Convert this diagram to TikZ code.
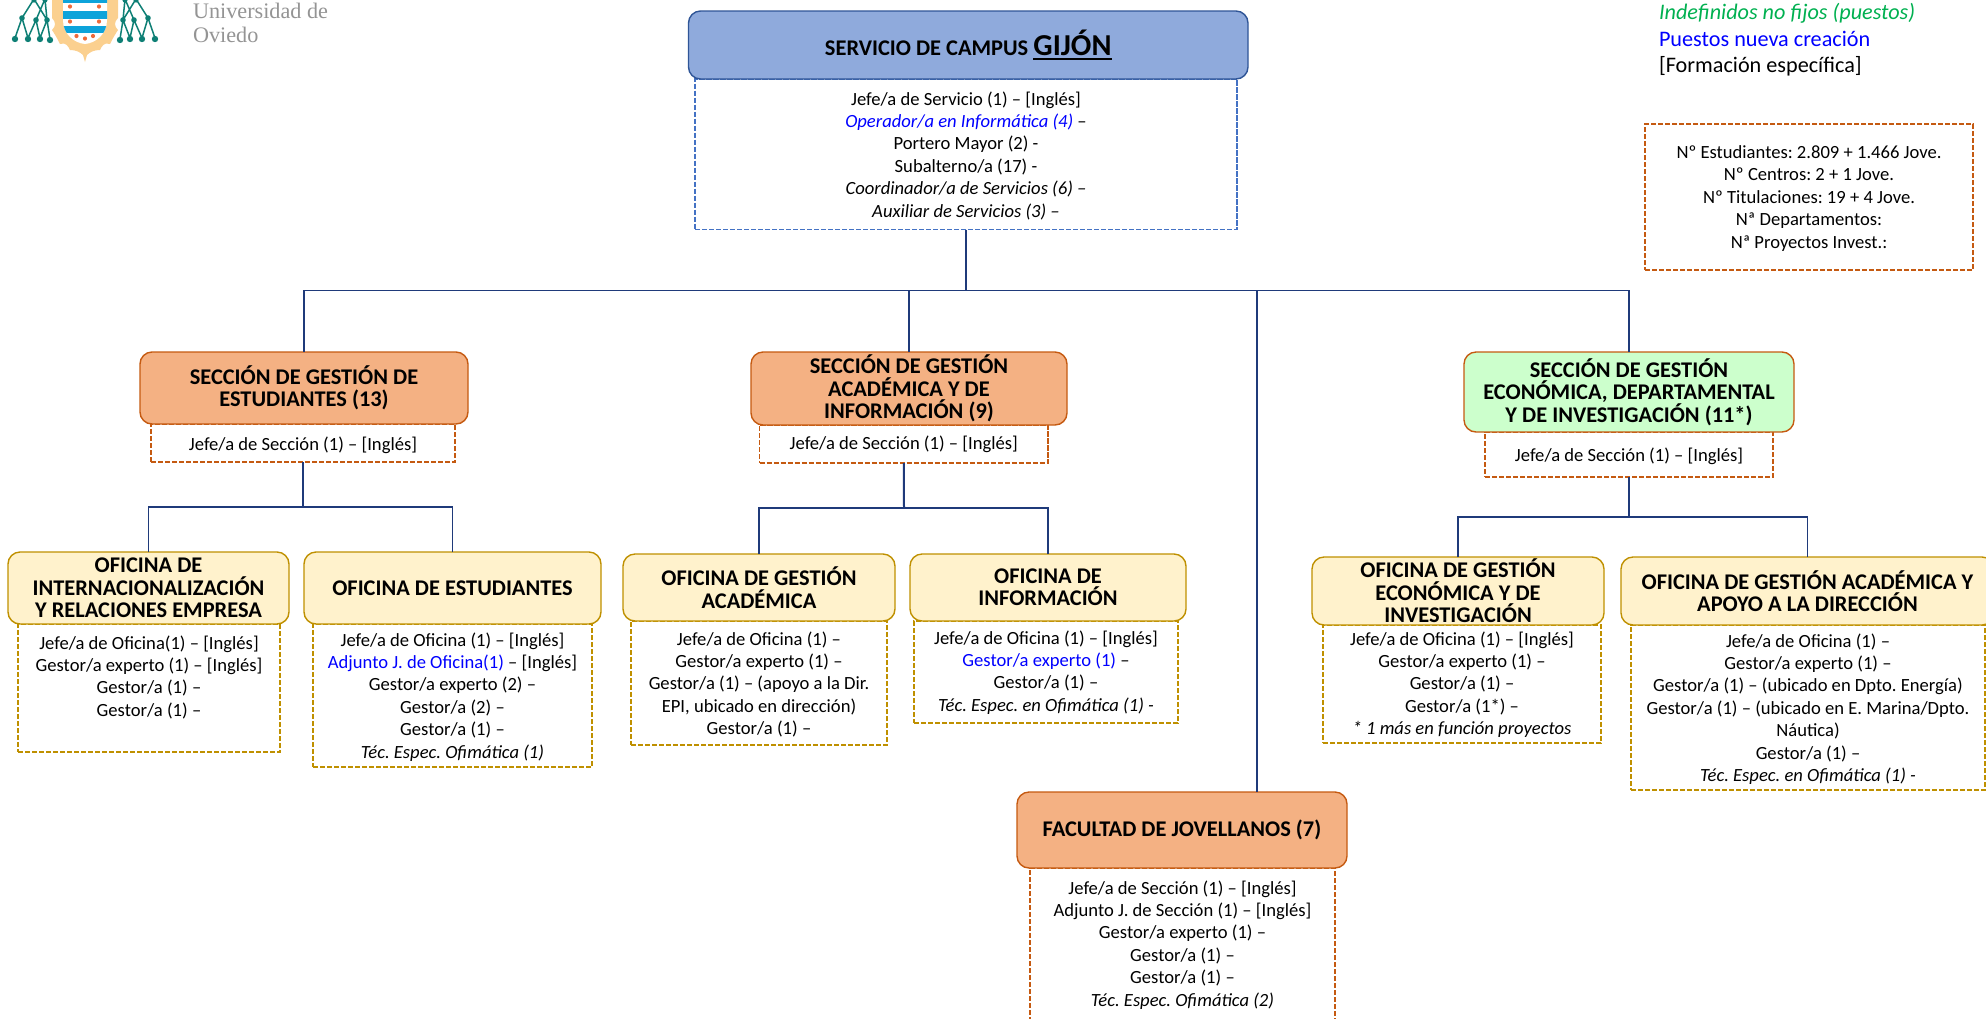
\documentclass[tikz,border=0pt]{standalone}
\usepackage{fontspec}
\setmainfont{Carlito}
\newfontfamily\logofont{Liberation Serif}
\definecolor{cnavy}{HTML}{1F3A7A}
\definecolor{cblue}{HTML}{8FAADC}
\definecolor{cblued}{HTML}{2F5597}
\definecolor{cdash}{HTML}{4472C4}
\definecolor{corange}{HTML}{F4B183}
\definecolor{corangd}{HTML}{C55A11}
\definecolor{cyel}{HTML}{FFF2CC}
\definecolor{cgold}{HTML}{BF9000}
\definecolor{cgreen}{HTML}{CCFFCC}
\definecolor{cteal}{HTML}{0E7F75}
\definecolor{ctan}{HTML}{FBD08F}
\definecolor{cstripe}{HTML}{0DA3DA}
\definecolor{cdot}{HTML}{EE6A3A}
\definecolor{cnew}{HTML}{0000FF}
\definecolor{cind}{HTML}{00B050}
\newcommand{\nw}[1]{\textcolor{cnew}{#1}}
\tikzset{
  x=0.5pt,y=-0.5pt,
  bxbase/.style={inner sep=0pt,outer sep=0pt,align=center,text=black,font=\fontsize{11.2}{11.2}\selectfont\bfseries\frenchspacing},
  hdblue/.style={bxbase,draw=cblued,fill=cblue,line width=0.7pt,rounded corners=6pt},
  hdorange/.style={bxbase,draw=corangd,fill=corange,line width=0.7pt,rounded corners=6pt},
  hdgreen/.style={bxbase,draw=corangd,fill=cgreen,line width=0.7pt,rounded corners=6pt},
  hdyellow/.style={bxbase,draw=cgold,fill=cyel,line width=0.7pt,rounded corners=6pt},
  bdbase/.style={inner sep=0pt,outer sep=0pt,line width=0.8pt,dash pattern=on 2.6pt off 0.9pt},
  bdblue/.style={bdbase,draw=cdash},
  bdorange/.style={bdbase,draw=corangd},
  bdgold/.style={bdbase,draw=cgold},
  bodytext/.style={inner sep=0pt,outer sep=0pt,align=center,anchor=north,text=black,font=\fontsize{9.3}{11.2}\selectfont\frenchspacing},
  conn/.style={draw=cnavy,line width=0.7pt},
  stem/.style={draw=cnavy,line width=1pt},
}
% name, style, x1, y1, x2, y2, text
\newcommand{\abox}[7]{\node[#2,minimum width={(#5-#3)*0.5pt},minimum height={(#6-#4)*0.5pt}] (#1) at ({(#3+#5)/2},{(#4+#6)/2}) {#7};}
% name, style, x1, y1, x2, y2, y of text top, text
\newcommand{\bbox}[8]{\node[#2,minimum width={(#5-#3)*0.5pt},minimum height={(#6-#4)*0.5pt}] (#1) at ({(#3+#5)/2},{(#4+#6)/2}) {};
  \node[bodytext] (#1-txt) at ({(#3+#5)/2},{#7+3.5}) {#8};}
\newsavebox{\gijonbox}
\begin{document}
\begin{tikzpicture}
\useasboundingbox (0,0) rectangle (1986,1018);
\clip (0,0) rectangle (1986,1018);

% logo
\begin{scope}
  \fill[ctan] (52,0) -- (52,18) .. controls (56,22) and (56,26) .. (52,30) .. controls (56,36) and (58,40) .. (60,44) .. controls (66,42) and (68,46) .. (70,50) .. controls (76,50) and (80,52) .. (83,55) -- (85,62) -- (87,55) .. controls (90,52) and (94,50) .. (100,50) .. controls (102,46) and (104,42) .. (110,44) .. controls (112,40) and (114,36) .. (118,30) .. controls (114,26) and (114,22) .. (118,18) -- (118,0) -- cycle;
  \fill[white] (63,0) -- (107,0) -- (107,20) .. controls (107,34) and (96,43) .. (85,44) .. controls (74,43) and (63,34) .. (63,20) -- cycle;
  \begin{scope}
    \clip (63,0) -- (107,0) -- (107,20) .. controls (107,34) and (96,43) .. (85,44) .. controls (74,43) and (63,34) .. (63,20) -- cycle;
    \fill[cstripe] (60,0) rectangle (110,3);
    \fill[cstripe] (60,11) rectangle (110,18.5);
    \fill[cstripe] (60,26) rectangle (110,33);
  \end{scope}
  \foreach \p in {(70,6.5),(99,6.5),(70,21.5),(99,21.5),(76.5,36),(85,38.5),(93,36)} \fill[cdot] \p circle (2.1);
  \foreach \m/\c in {1/0,-1/170}{
    \begin{scope}[shift={(\c,0)},xscale=\m]
      \draw[cteal,line width=0.75pt] (34,-1) -- (22,18) -- (15,38) (22,18) -- (28,38)
        (34,-1) -- (47,20) -- (50,39) (47,20) -- (40,38)
        (45,-1) -- (36,20) -- (28,38) (36,20) -- (40,38)
        (45,-1) -- (47,20);
      \foreach \p in {(22,18),(36,20),(47,20)} \fill[cteal] \p circle (2.8);
      \foreach \p in {(15,39),(28,39),(40,39),(50,40)} \fill[cteal] \p circle (3.2);
      \foreach \p in {(34,0),(45,0)} \fill[cteal] \p circle (2.6);
    \end{scope}
  }
\end{scope}
\node[inner sep=0pt,outer sep=0pt,anchor=north west,align=left,text=black!42,font=\logofont\fontsize{11.1}{11.7}\selectfont] (logotext) at (193,3.5) {Universidad de\\Oviedo};

% legend
\node[inner sep=0pt,outer sep=0pt,anchor=north west,align=left,font=\fontsize{11.1}{13.25}\selectfont] (legend) at (1659,3.5) {\textcolor{cind}{\itshape Indefinidos no fijos (puestos)}\\\textcolor{cnew}{Puestos nueva creación}\\{}[Formación específica]};
\bbox{stats}{bdorange}{1645}{124}{1973}{270}{142}{Nº Estudiantes: 2.809 + 1.466 Jove.\\Nº Centros: 2 + 1 Jove.\\Nº Titulaciones: 19 + 4 Jove.\\Nª Departamentos:\\Nª Proyectos Invest.:}

% top
\bbox{topb}{bdblue}{695}{79}{1237}{229.5}{88}{Jefe/a de Servicio (1) – [Inglés]\\\nw{\itshape Operador/a en Informática (4)} –\\Portero Mayor (2) -\\Subalterno/a (17) -\\{\itshape Coordinador/a de Servicios (6) –}\\{\itshape Auxiliar de Servicios (3) –}}
\abox{top}{hdblue}{688.5}{11}{1248}{79}{SERVICIO DE CAMPUS {\fontsize{15.2}{15.2}\selectfont\sbox{\gijonbox}{GIJÓN}\rlap{\rule[-2.2pt]{\wd\gijonbox}{1.1pt}}\usebox{\gijonbox}}}

% section 1
\bbox{secab}{bdorange}{151}{424}{455}{462}{433}{Jefe/a de Sección (1) – [Inglés]}
\abox{seca}{hdorange}{140}{352}{468}{424}{SECCIÓN DE GESTIÓN DE\\ESTUDIANTES (13)}
\bbox{ofaab}{bdgold}{18}{624}{280}{752}{632}{Jefe/a de Oficina(1) – [Inglés]\\Gestor/a experto (1) – [Inglés]\\Gestor/a (1) –\\Gestor/a (1) –}
\abox{ofaa}{hdyellow}{8}{552}{289}{624}{OFICINA DE\\INTERNACIONALIZACIÓN\\Y RELACIONES EMPRESA}
\bbox{ofabb}{bdgold}{313}{624}{592}{767}{629}{Jefe/a de Oficina (1) – [Inglés]\\\nw{Adjunto J. de Oficina(1)} – [Inglés]\\Gestor/a experto (2) –\\Gestor/a (2) –\\Gestor/a (1) –\\{\itshape Téc. Espec. Ofimática (1)}}
\abox{ofab}{hdyellow}{304}{552}{601}{624}{OFICINA DE ESTUDIANTES}

% section 2
\bbox{secbb}{bdorange}{759.5}{425}{1048}{463}{432}{Jefe/a de Sección (1) – [Inglés]}
\abox{secb}{hdorange}{751}{352}{1067}{425}{SECCIÓN DE GESTIÓN\\ACADÉMICA Y DE\\INFORMACIÓN (9)}
\bbox{ofbab}{bdgold}{631}{621}{887}{745}{628}{Jefe/a de Oficina (1) –\\Gestor/a experto (1) –\\Gestor/a (1) – (apoyo a la Dir.\\EPI, ubicado en dirección)\\Gestor/a (1) –}
\abox{ofba}{hdyellow}{623}{554}{895}{621}{OFICINA DE GESTIÓN\\ACADÉMICA}
\bbox{ofbbb}{bdgold}{914}{621}{1178}{723}{627}{Jefe/a de Oficina (1) – [Inglés]\\\nw{Gestor/a experto (1)} –\\Gestor/a (1) –\\{\itshape Téc. Espec. en Ofimática (1) -}}
\abox{ofbb}{hdyellow}{910}{554}{1186}{621}{OFICINA DE\\INFORMACIÓN}

% section 3
\bbox{seccb}{bdorange}{1485}{432}{1773}{477}{444}{Jefe/a de Sección (1) – [Inglés]}
\abox{secc}{hdgreen}{1464}{352}{1794}{432}{SECCIÓN DE GESTIÓN\\ECONÓMICA, DEPARTAMENTAL\\Y DE INVESTIGACIÓN (11*)}
\bbox{ofcab}{bdgold}{1323}{625}{1601}{743}{628}{Jefe/a de Oficina (1) – [Inglés]\\Gestor/a experto (1) –\\Gestor/a (1) –\\Gestor/a (1*) –\\{\itshape * 1 más en función proyectos}}
\abox{ofca}{hdyellow}{1312}{557}{1604}{625}{OFICINA DE GESTIÓN\\ECONÓMICA Y DE\\INVESTIGACIÓN}
\bbox{ofcbb}{bdgold}{1631}{625}{1985}{790}{630}{Jefe/a de Oficina (1) –\\Gestor/a experto (1) –\\Gestor/a (1) – (ubicado en Dpto. Energía)\\Gestor/a (1) – (ubicado en E. Marina/Dpto.\\Náutica)\\Gestor/a (1) –\\{\itshape Téc. Espec. en Ofimática (1) -}}
\abox{ofcb}{hdyellow}{1621}{557}{1994}{625}{OFICINA DE GESTIÓN ACADÉMICA Y\\APOYO A LA DIRECCIÓN}

% Jovellanos
\bbox{jovb}{bdorange}{1030}{868}{1335}{1040}{877}{Jefe/a de Sección (1) – [Inglés]\\Adjunto J. de Sección (1) – [Inglés]\\Gestor/a experto (1) –\\Gestor/a (1) –\\Gestor/a (1) –\\{\itshape Téc. Espec. Ofimática (2)}}
\abox{jov}{hdorange}{1017}{792}{1347}{868}{FACULTAD DE JOVELLANOS (7)}

% connectors
\coordinate (bus) at (966,290.5);
\coordinate (jovtop) at (1257,792);
\coordinate (busa) at (303,507);
\coordinate (busb) at (904,508);
\coordinate (busc) at (1629,517);
\draw[stem] (topb.south) -- (bus);
\draw[conn] (seca.north) |- (bus);
\draw[conn] (secb.north) |- (bus);
\draw[conn] (secc.north) |- (bus);
\draw[conn] (jovtop) |- (bus);
\draw[stem] (secab.south) -- (busa);
\draw[conn] (ofaa.north) |- (busa);
\draw[conn] (ofab.north) |- (busa);
\draw[stem] (secbb.south) -- (busb);
\draw[conn] (ofba.north) |- (busb);
\draw[conn] (ofbb.north) |- (busb);
\draw[stem] (seccb.south) -- (busc);
\draw[conn] (ofca.north) |- (busc);
\draw[conn] (ofcb.north) |- (busc);
\end{tikzpicture}
\end{document}
